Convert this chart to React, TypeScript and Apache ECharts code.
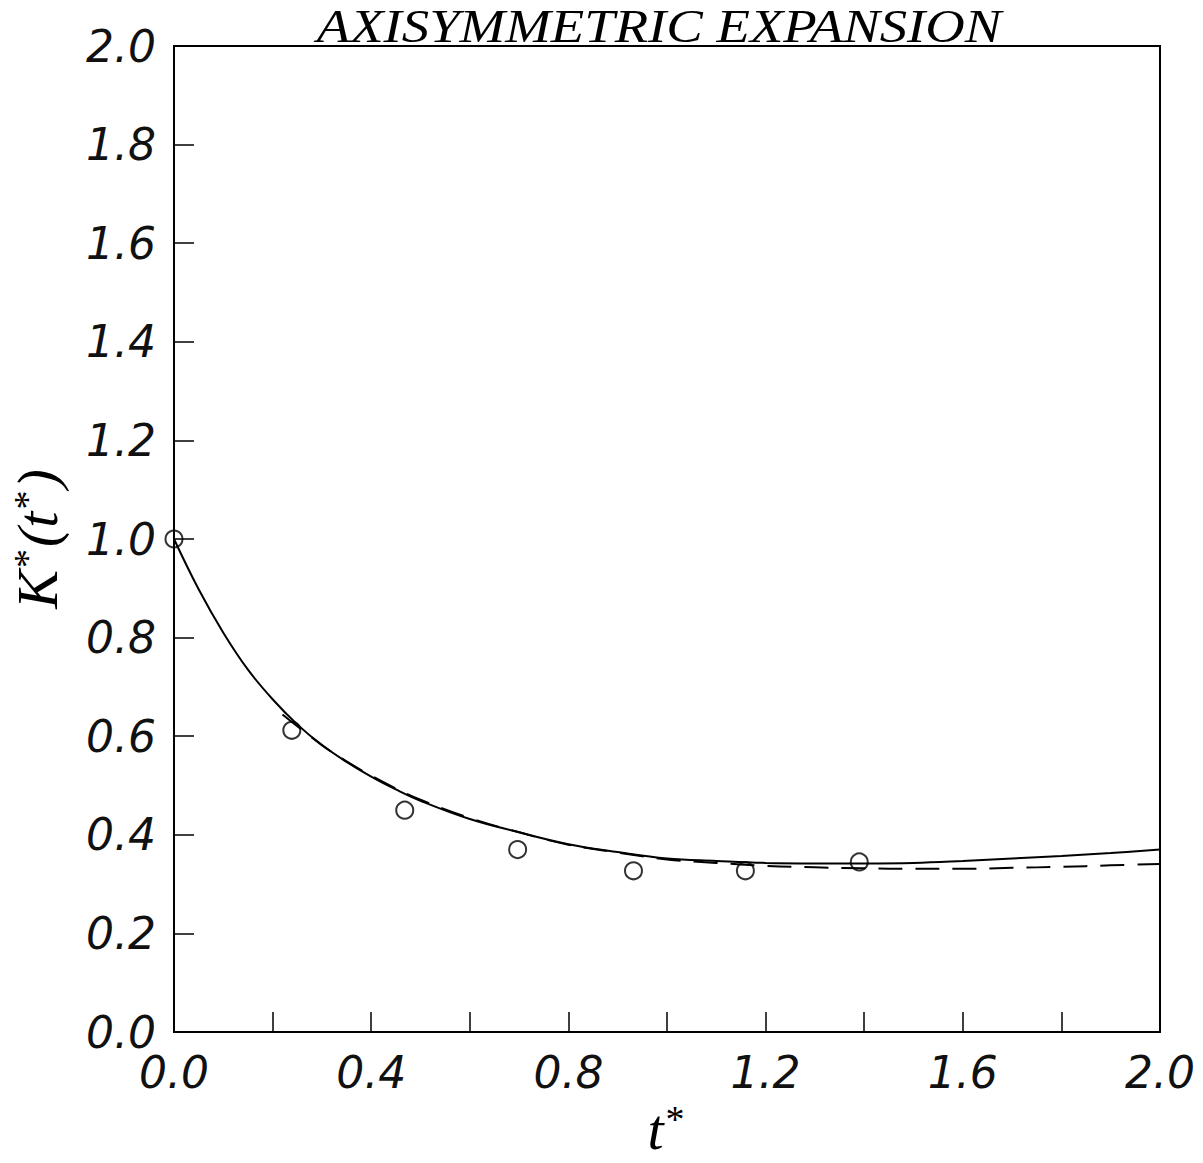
import React, { useEffect, useRef } from "react";
import * as echarts from "echarts";

const titleText = "AXISYMMETRIC EXPANSION";

const solidX = [0, 0.05, 0.1, 0.15, 0.2, 0.25, 0.3, 0.35, 0.4, 0.45, 0.5, 0.6, 0.7, 0.8, 0.9, 1.0, 1.1, 1.2, 1.3, 1.4, 1.5, 1.6, 1.7, 1.8, 1.9, 2.0];
const solidY = [1.0, 0.898, 0.81, 0.735, 0.675, 0.624, 0.582, 0.548, 0.518, 0.492, 0.469, 0.432, 0.405, 0.381, 0.365, 0.352, 0.347, 0.343, 0.342, 0.342, 0.343, 0.347, 0.352, 0.357, 0.363, 0.37];

const dashX = [0.22, 0.3, 0.35, 0.4, 0.45, 0.5, 0.6, 0.7, 0.8, 0.9, 1.0, 1.1, 1.2, 1.3, 1.4, 1.5, 1.6, 1.7, 1.8, 1.9, 2.0];
const dashY = [0.644, 0.582, 0.549, 0.52, 0.494, 0.471, 0.434, 0.405, 0.38, 0.364, 0.35, 0.343, 0.337, 0.334, 0.332, 0.331, 0.331, 0.333, 0.335, 0.338, 0.341];

const pointX = [0.0, 0.239, 0.468, 0.697, 0.932, 1.159, 1.39];
const pointY = [1.0, 0.612, 0.45, 0.37, 0.327, 0.327, 0.345];

const labelFont = {
  fontFamily: "DejaVu Sans",
  fontStyle: "italic" as const,
  fontSize: 44,
  color: "#111",
};

export default function App() {
  const ref = useRef<HTMLDivElement>(null);
  useEffect(() => {
    if (!ref.current) return;
    const chart = echarts.init(ref.current, null, { renderer: "svg" });
    const nameRich = {
      a: { fontFamily: "Liberation Serif", fontStyle: "italic", fontSize: 58, color: "#000" },
      s: { fontFamily: "Liberation Serif", fontSize: 38, color: "#000", verticalAlign: "top", padding: [0, 2, 20, 2] },
    };
    chart.setOption({
      animation: false,
      backgroundColor: "#fff",
      grid: {
        left: 173,
        right: 43,
        top: 46,
        bottom: 127,
        show: true,
        borderColor: "#000",
        borderWidth: 2,
        backgroundColor: "transparent",
      },
      graphic: [
        {
          type: "text",
          x: 659,
          y: 27,
          scaleX: 1.19,
          style: {
            text: titleText,
            font: "italic 46px 'Liberation Serif'",
            fill: "#000",
            textAlign: "center",
            textVerticalAlign: "middle",
          },
        },
      ],
      xAxis: {
        type: "value",
        min: 0,
        max: 2,
        interval: 0.2,
        splitLine: { show: false },
        axisLine: { show: true, lineStyle: { color: "#000", width: 2 } },
        axisTick: { show: true, inside: true, length: 20, lineStyle: { color: "#000", width: 1.5 } },
        axisLabel: {
          ...labelFont,
          margin: 18,
          formatter: (v: number) => (Math.round(v * 10) % 4 === 0 ? v.toFixed(1) : ""),
        },
        name: "{a|t}{s|*}",
        nameLocation: "middle",
        nameGap: 68,
        nameTextStyle: { rich: nameRich },
      },
      yAxis: {
        type: "value",
        min: 0,
        max: 2,
        interval: 0.2,
        splitLine: { show: false },
        axisLine: { show: true, lineStyle: { color: "#000", width: 2 } },
        axisTick: { show: true, inside: true, length: 20, lineStyle: { color: "#000", width: 1.5 } },
        axisLabel: {
          ...labelFont,
          margin: 18,
          formatter: (v: number) => v.toFixed(1),
        },
        name: "{a|K}{s|*}{a|(t}{s|*}{a|)}",
        nameLocation: "middle",
        nameRotate: 90,
        nameGap: 108,
        nameTextStyle: { rich: nameRich },
      },
      series: [
        {
          type: "line",
          data: solidX.map((x, i) => [x, solidY[i]]),
          smooth: 0.4,
          symbol: "none",
          lineStyle: { color: "#000", width: 2 },
          z: 2,
        },
        {
          type: "line",
          data: dashX.map((x, i) => [x, dashY[i]]),
          smooth: 0.4,
          symbol: "none",
          lineStyle: { color: "#000", width: 2, type: [24, 13] },
          z: 2,
        },
        {
          type: "scatter",
          data: pointX.map((x, i) => [x, pointY[i]]),
          symbol: "circle",
          symbolSize: 17,
          itemStyle: { color: "rgba(255,255,255,0)", borderColor: "#000", borderWidth: 2 },
          z: 3,
        },
      ],
    });
    return () => chart.dispose();
  }, []);
  return (
    <div
      ref={ref}
      style={{ position: "fixed", left: 0, top: 0, width: 1203, height: 1163, background: "#fff" }}
    />
  );
}
